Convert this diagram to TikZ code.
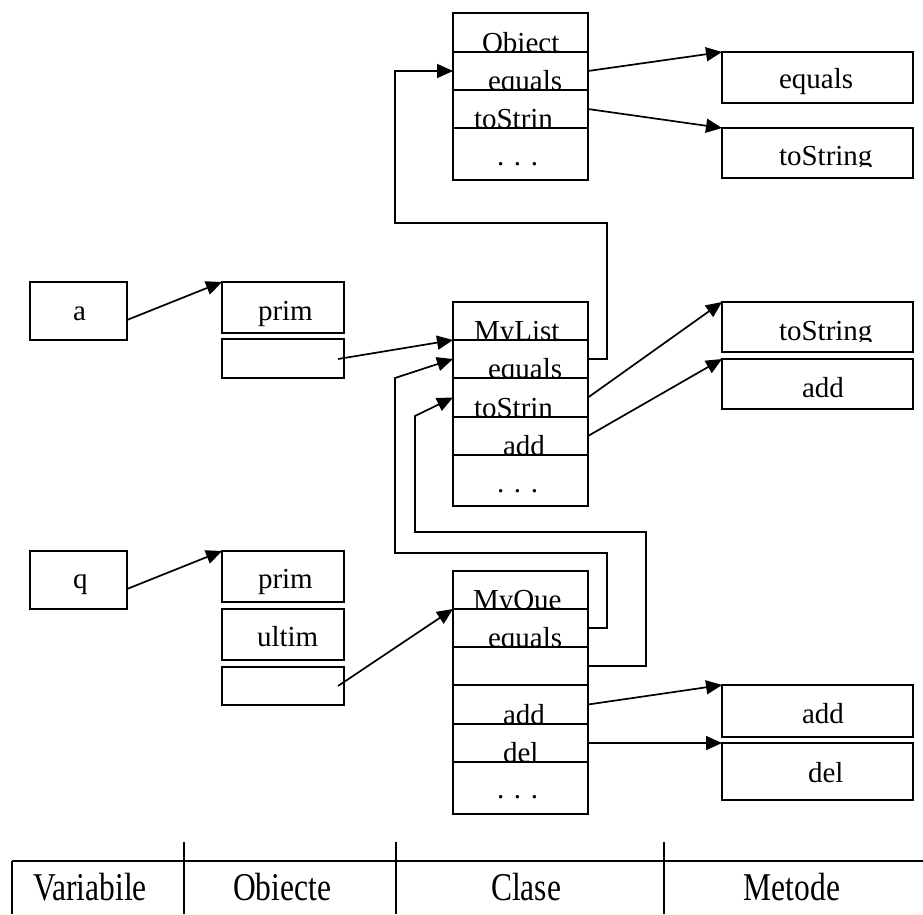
\documentclass[tikz,border=0pt]{standalone}
\usepackage{fontspec}
\setmainfont{Liberation Serif}
\usetikzlibrary{arrows.meta}
\tikzset{
  cell/.style={draw, rectangle, line width=1.8pt, inner sep=0pt, outer sep=0pt},
  txt/.style={anchor=base west, inner sep=0pt, outer sep=0pt, font=\fontsize{29}{34}\selectfont},
  ctxt/.style={anchor=base, inner sep=0pt, outer sep=0pt, font=\fontsize{31.5}{36}\selectfont},
  link/.style={line width=1.7pt, -{Triangle[length=16pt,width=14pt]}},
  wire/.style={line width=1.7pt},
}
\newcommand\cellbox[5]{%
  \pgfmathsetmacro\cbw{#4-#2}\pgfmathsetmacro\cbh{#5-#3}%
  \pgfmathsetmacro\cbx{(#2+#4)/2}\pgfmathsetmacro\cby{(#3+#5)/2}%
  \node[cell, minimum width=\cbw pt, minimum height=\cbh pt] (#1) at (\cbx,\cby) {};}
\newcommand\celltext[4]{%
  \begin{scope}\clip (#2.south west) rectangle (#2.north east);
  \node[txt] (#1) at (#3) {#4};\end{scope}}
\newcommand\tall[1]{\scalebox{1}[1.25]{#1}}
\begin{document}
\begin{tikzpicture}[x=1pt,y=-1pt]
\useasboundingbox (0,0) rectangle (923,914);

% ---------- class Obiect ----------
\cellbox{o0}{453}{13}{588}{52}
\cellbox{o1}{453}{52}{588}{90}
\cellbox{o2}{453}{90}{588}{128}
\cellbox{o3}{453}{128}{588}{180}
\celltext{o0t}{o0}{482,52}{Obiect}
\celltext{o1t}{o1}{488,90}{equals}
\celltext{o2t}{o2}{474,128}{toStrin}
\celltext{o3t}{o3}{497,165}{. . .}

% ---------- class MyList ----------
\cellbox{l0}{453}{302}{588}{340}
\cellbox{l1}{453}{340}{588}{378}
\cellbox{l2}{453}{378}{588}{417}
\cellbox{l3}{453}{417}{588}{455}
\cellbox{l4}{453}{455}{588}{506}
\celltext{l0t}{l0}{474,340}{MyList}
\celltext{l1t}{l1}{488,378}{equals}
\celltext{l2t}{l2}{474,417}{toStrin}
\celltext{l3t}{l3}{503,455}{add}
\celltext{l4t}{l4}{497,492}{. . .}

% ---------- class MyQue ----------
\cellbox{q0}{453}{571}{588}{609}
\cellbox{q1}{453}{609}{588}{647}
\cellbox{q2}{453}{647}{588}{685}
\cellbox{q3}{453}{685}{588}{724}
\cellbox{q4}{453}{724}{588}{762}
\cellbox{q5}{453}{762}{588}{814}
\celltext{q0t}{q0}{473,609}{MyQue}
\celltext{q1t}{q1}{488,647}{equals}
\celltext{q3t}{q3}{503,724}{add}
\celltext{q4t}{q4}{503,762}{del}
\celltext{q5t}{q5}{497,798}{. . .}

% ---------- methods ----------
\cellbox{m1}{722}{52}{913}{103}
\cellbox{m2}{722}{128}{913}{178}
\cellbox{m3}{722}{302}{913}{352}
\cellbox{m4}{722}{359}{913}{409}
\cellbox{m5}{722}{685}{913}{737}
\cellbox{m6}{722}{743}{913}{800}
\celltext{m1t}{m1}{779,88}{equals}
\begin{scope}\clip (722,128) rectangle (913,166);
  \node[txt] (m2t) at (779,165) {toString};\end{scope}
\begin{scope}\clip (722,302) rectangle (913,341);
  \node[txt] (m3t) at (779,340) {toString};\end{scope}
\celltext{m4t}{m4}{802,397}{add}
\celltext{m5t}{m5}{802,723}{add}
\celltext{m6t}{m6}{808,782}{del}

% ---------- variables ----------
\cellbox{va}{30}{282}{127}{340}
\cellbox{vq}{30}{551}{127}{609}
\celltext{vat}{va}{73,320}{a}
\celltext{vqt}{vq}{73,588}{q}

% ---------- objects ----------
\cellbox{a1}{222}{282}{344}{333}
\cellbox{a2}{222}{339}{344}{378}
\cellbox{b1}{222}{551}{344}{602}
\cellbox{b2}{222}{609}{344}{660}
\cellbox{b3}{222}{667}{344}{705}
\celltext{a1t}{a1}{258,320}{prim}
\celltext{b1t}{b1}{258,588}{prim}
\celltext{b2t}{b2}{257,646}{ultim}

% ---------- helper points ----------
\coordinate (vaP) at (127,320);
\coordinate (vqP) at (127,589);
\coordinate (a2P) at (338,359);
\coordinate (b3P) at (338,686);
\coordinate (c1) at (395,223);
\coordinate (k1) at (395,553);
\coordinate (k2) at (395,378);
\coordinate (k3) at (415,532);
\coordinate (k4) at (415,416);

% ---------- connectors ----------
\draw[link] (vaP) -- (a1.north west);
\draw[link] (vqP) -- (b1.north west);
\draw[link] (a2P) -- (l0.south west);
\draw[link] (b3P) -- (q0.south west);

\draw[link] (o1.east) -- (m1.north west);
\draw[link] (o2.east) -- (m2.north west);
\draw[link] (l2.east) -- (m3.north west);
\draw[link] (l3.east) -- (m4.north west);
\draw[link] (q3.east) -- (m5.north west);
\draw[link] (q4.east) -- (m6.north west);

\draw[link] (l1.east) -- ++(19,0) |- (c1) |- (o1.west);
\draw[link] (q1.east) -- ++(19,0) |- (k1) -- (k2) -- (l1.west);
\draw[link] (q2.east) -- ++(58,0) |- (k3) -- (k4) -- (l2.west);

% ---------- legend table ----------
\draw[wire, line width=2.2pt] (12,861) -- (923,861);
\draw[wire] (12,861) -- (12,914);
\draw[wire] (184,842) -- (184,914);
\draw[wire] (396,842) -- (396,914);
\draw[wire] (664,842) -- (664,914);
\node[ctxt] (tv) at (90,900) {\tall{Variabile}};
\node[ctxt] (to) at (282,900) {\tall{Obiecte}};
\node[ctxt] (tc) at (526,900) {\tall{Clase}};
\node[ctxt] (tm) at (792,900) {\tall{Metode}};
\end{tikzpicture}
\end{document}
